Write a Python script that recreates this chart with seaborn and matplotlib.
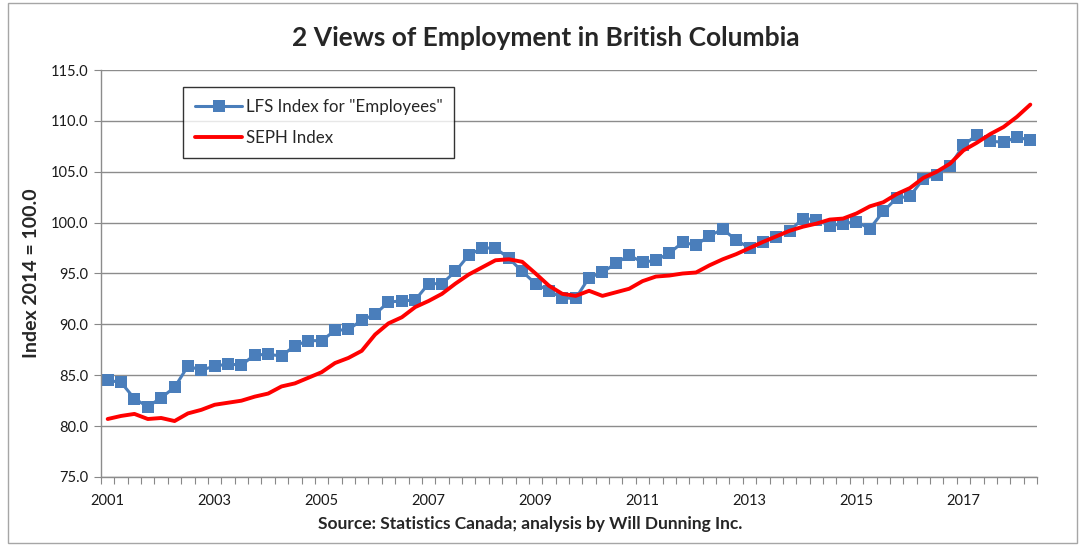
import numpy as np
import pandas as pd
import matplotlib
matplotlib.use("Agg")
import matplotlib.pyplot as plt
from matplotlib.patches import Rectangle
import seaborn as sns

# Quarterly index values, 2001 Q1 through 2018 Q2 (2014 = 100)
lfs_employees = [
    84.5, 84.3, 82.7, 81.9, 82.8, 83.8, 85.9, 85.5, 85.9, 86.1,
    86.0, 87.0, 87.05, 86.9, 87.9, 88.4, 88.4, 89.4, 89.5, 90.4,
    91.0, 92.2, 92.3, 92.4, 94.0, 94.0, 95.2, 96.8, 97.5, 97.5,
    96.5, 95.2, 94.0, 93.3, 92.6, 92.55, 94.6, 95.1, 96.0, 96.8,
    96.1, 96.3, 97.0, 98.05, 97.8, 98.7, 99.35, 98.3, 97.5, 98.1,
    98.6, 99.2, 100.4, 100.3, 99.7, 99.9, 100.1, 99.4, 101.1, 102.4,
    102.6, 104.3, 104.7, 105.6, 107.6, 108.6, 108.0, 107.9, 108.4, 108.1,
]
seph_index = [
    80.7, 81.0, 81.2, 80.7, 80.8, 80.5, 81.25, 81.6, 82.1, 82.3,
    82.5, 82.9, 83.2, 83.9, 84.2, 84.75, 85.3, 86.2, 86.7, 87.4,
    89.0, 90.1, 90.7, 91.7, 92.3, 93.0, 94.0, 94.9, 95.6, 96.3,
    96.4, 96.15, 95.0, 93.8, 93.0, 92.8, 93.3, 92.8, 93.15, 93.5,
    94.25, 94.7, 94.8, 95.0, 95.1, 95.8, 96.4, 96.9, 97.5, 98.1,
    98.65, 99.2, 99.6, 99.9, 100.3, 100.4, 100.9, 101.6, 102.0, 102.8,
    103.4, 104.4, 105.0, 105.8, 107.1, 107.85, 108.7, 109.4, 110.4, 111.6,
]
year_labels = ["2001", "2003", "2005", "2007", "2009", "2011", "2013", "2015", "2017"]
y_ticks = [75.0, 80.0, 85.0, 90.0, 95.0, 100.0, 105.0, 110.0, 115.0]
series_names = ['LFS Index for "Employees"', "SEPH Index"]

quarter = np.arange(len(lfs_employees))
df = pd.DataFrame({"quarter": quarter, "lfs": lfs_employees, "seph": seph_index})

sns.set_theme(style="white")
plt.rcParams["font.family"] = ["Lato", "DejaVu Sans"]

W, H = 1088, 546
fig = plt.figure(figsize=(W / 100, H / 100), dpi=100)
fig.patch.set_facecolor("white")

# chart-area frame
fig.add_artist(Rectangle((8 / W, 3 / H), (1077 - 8) / W, (543 - 3) / H,
                         transform=fig.transFigure, fill=False,
                         edgecolor="#a6a6a6", linewidth=1.0))

left, right, top, bottom = 101, 1037, 70, 477
ax = fig.add_axes([left / W, 1 - bottom / H, (right - left) / W, (bottom - top) / H])

blue = "#4A7EBB"
red = "#FF0000"

sns.lineplot(data=df, x="quarter", y="lfs", ax=ax, color=blue, linewidth=2.2,
             marker="s", markersize=8, markeredgewidth=0, label=series_names[0])
sns.lineplot(data=df, x="quarter", y="seph", ax=ax, color=red, linewidth=2.8,
             label=series_names[1])

ax.set_xlim(-0.5, len(quarter) - 0.5)
ax.set_ylim(75, 115)
ax.set_yticks(y_ticks)
ax.set_yticklabels([f"{v:.1f}" for v in y_ticks], fontsize=10.5, color="#1a1a1a")
ax.set_xticks(quarter[::8][:len(year_labels)])
ax.set_xticklabels(year_labels, fontsize=10.5, color="#1a1a1a")
ax.set_xticks(np.arange(-0.5, len(quarter)), minor=True)
ax.tick_params(axis="x", which="major", length=0, pad=12)
ax.tick_params(axis="x", which="minor", length=5, width=0.8, color="#888888", direction="out")
ax.tick_params(axis="y", which="major", length=5, width=0.8, color="#888888", direction="out", pad=4)
ax.tick_params(axis="x", which="minor", bottom=True)
ax.tick_params(axis="y", left=True)

ax.grid(axis="y", color="#8c8c8c", linewidth=1.0)
ax.set_axisbelow(True)
for side in ("top", "right"):
    ax.spines[side].set_visible(False)
for side in ("left", "bottom"):
    ax.spines[side].set_color("#8c8c8c")
    ax.spines[side].set_linewidth(1.0)

ax.set_xlabel("")
ax.set_ylabel("Index 2014 = 100.0", fontsize=14, fontweight="bold", labelpad=8)
fig.text(530 / W, 1 - 524 / H, "Source: Statistics Canada; analysis by Will Dunning Inc.",
         ha="center", va="center", fontsize=12.5, fontweight="bold")
fig.text(546 / W, 1 - 38 / H, "2 Views of Employment in British Columbia",
         ha="center", va="center", fontsize=19, fontweight="bold")

leg = ax.legend(loc="upper left", bbox_to_anchor=((183 - left) / (right - left), (bottom - 87) / (bottom - top)),
                frameon=True, fancybox=False, fontsize=12.2, handlelength=2.8,
                handletextpad=0.2, borderpad=0.7, labelspacing=0.9, borderaxespad=0)
leg.get_frame().set_edgecolor("black")
leg.get_frame().set_linewidth(1.0)

fig.savefig("out.png", dpi=100)
